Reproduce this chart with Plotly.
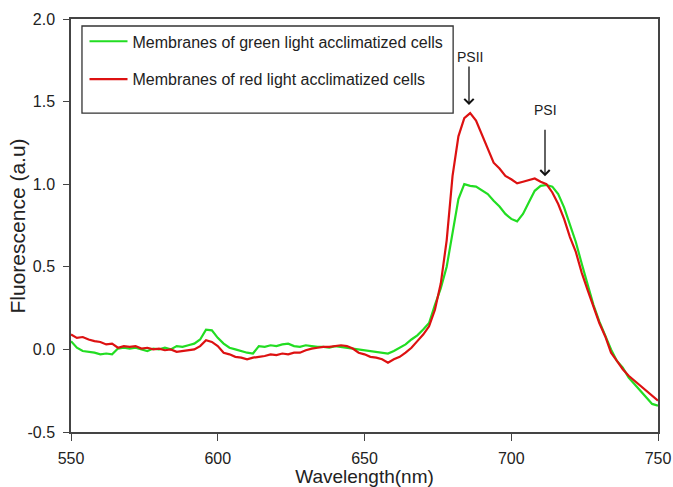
import plotly.graph_objects as go

wavelength = list(range(550, 752, 2))

green_cells = [
    0.05, 0.01, -0.01, -0.015, -0.02, -0.03, -0.025, -0.03, 0.005, 0.01,
    0.005, 0.01, 0.0, -0.01, 0.005, 0.0, 0.01, 0.0, 0.02, 0.015,
    0.025, 0.035, 0.06, 0.12, 0.115, 0.07, 0.035, 0.01, 0.0, -0.01,
    -0.02, -0.025, 0.02, 0.015, 0.025, 0.02, 0.03, 0.035, 0.02, 0.015,
    0.025, 0.02, 0.015, 0.015, 0.01, 0.02, 0.015, 0.01, 0.005, 0.0,
    -0.005, -0.01, -0.015, -0.02, -0.025, -0.01, 0.01, 0.03, 0.06, 0.085,
    0.12, 0.16, 0.27, 0.37, 0.5, 0.7, 0.91, 1.0, 0.99, 0.985,
    0.96, 0.94, 0.9, 0.865, 0.82, 0.79, 0.775, 0.82, 0.89, 0.96,
    0.99, 0.995, 0.985, 0.94, 0.86, 0.76, 0.65, 0.52, 0.39, 0.27,
    0.17, 0.08, 0.0, -0.07, -0.11, -0.17, -0.21, -0.25, -0.29, -0.33,
    -0.34,
]

red_cells = [
    0.09, 0.07, 0.075, 0.06, 0.05, 0.045, 0.03, 0.035, 0.01, 0.02,
    0.015, 0.02, 0.005, 0.01, 0.0, 0.005, -0.005, 0.0, -0.015, -0.01,
    -0.005, 0.0, 0.02, 0.055, 0.045, 0.02, -0.02, -0.03, -0.045, -0.05,
    -0.06, -0.05, -0.045, -0.04, -0.03, -0.035, -0.025, -0.03, -0.02, -0.02,
    -0.005, 0.005, 0.01, 0.015, 0.015, 0.02, 0.025, 0.02, 0.005, -0.02,
    -0.03, -0.045, -0.05, -0.06, -0.08, -0.06, -0.045, -0.02, 0.01, 0.05,
    0.09, 0.14, 0.24, 0.4, 0.66, 1.05, 1.29, 1.4, 1.43, 1.385,
    1.3, 1.21, 1.13, 1.095, 1.05, 1.03, 1.005, 1.015, 1.025, 1.035,
    1.015, 1.0, 0.95, 0.88, 0.79, 0.68, 0.59, 0.465, 0.36, 0.26,
    0.16, 0.08, -0.02, -0.07, -0.12, -0.16, -0.19, -0.22, -0.245, -0.28,
    -0.31,
]

series_names = [
    "Membranes of green light acclimatized cells",
    "Membranes of red light acclimatized cells",
]

x_ticks = [550, 600, 650, 700, 750]
y_ticks = [-0.5, 0.0, 0.5, 1.0, 1.5, 2.0]
y_tick_labels = ["-0.5", "0.0", "0.5", "1.0", "1.5", "2.0"]

peak_labels = ["PSII", "PSI"]
peak_wl = [685.6, 711.5]
peak_tip = [1.479, 1.048]
peak_tail = [1.721, 1.339]
peak_text_y = [1.77, 1.45]

FONT = "Liberation Sans, Arial, sans-serif"
GREEN = "#22dd22"
RED = "#dd1111"

fig = go.Figure()
fig.add_trace(go.Scatter(x=wavelength, y=green_cells, mode="lines",
                         name=series_names[0], legendgroup="g",
                         line=dict(color=GREEN, width=2.2)))
fig.add_trace(go.Scatter(x=wavelength, y=red_cells, mode="lines",
                         name=series_names[1], legendgroup="r",
                         line=dict(color=RED, width=2.2)))

for lab, wx, tip, tail, ty in zip(peak_labels, peak_wl, peak_tip, peak_tail, peak_text_y):
    fig.add_annotation(x=wx, y=tip, ax=wx, ay=tail, axref="x", ayref="y",
                       xref="x", yref="y", text="", showarrow=True,
                       arrowhead=4, arrowsize=1.4, arrowwidth=1.3,
                       arrowcolor="#111111")
    fig.add_annotation(x=wx + 0.3, y=ty, xref="x", yref="y", text=lab,
                       showarrow=False, font=dict(family=FONT, size=14, color="#222222"))

# y-axis title as rotated text
fig.add_annotation(x=-0.0903, y=0.5, xref="paper", yref="paper",
                   text="Fluorescence (a.u)", textangle=-90, showarrow=False,
                   xanchor="center", yanchor="middle",
                   font=dict(family=FONT, size=21, color="#222222"))

fig.update_layout(
    width=673, height=487,
    margin=dict(l=71, r=15, t=19, b=55),
    paper_bgcolor="white", plot_bgcolor="white",
    font=dict(family=FONT, size=16, color="#222222"),
    showlegend=True,
    legend=dict(x=0.023, y=0.987, xanchor="left", yanchor="top",
                bgcolor="rgba(0,0,0,0)", borderwidth=0,
                font=dict(family=FONT, size=16, color="#222222"),
                tracegroupgap=14, itemwidth=38),
    shapes=[dict(type="rect", xref="paper", yref="paper",
                 x0=0.0187, x1=0.651, y0=0.772, y1=0.983,
                 line=dict(color="#333333", width=1.3), fillcolor="rgba(0,0,0,0)")],
)

fig.update_xaxes(
    range=[550, 750], tickvals=x_ticks, ticktext=[str(v) for v in x_ticks],
    showgrid=False, zeroline=False, showline=True, mirror=True, automargin=False,
    linecolor="#444444", linewidth=1.5, ticks="outside", ticklen=7,
    tickwidth=1.3, tickcolor="#444444", ticklabelstandoff=4,
    tickfont=dict(family=FONT, size=16, color="#222222"),
    title=dict(text="Wavelength(nm)", font=dict(family=FONT, size=19, color="#222222"), standoff=2),
)
fig.update_yaxes(
    range=[-0.5, 2.0], tickvals=y_ticks, ticktext=y_tick_labels,
    showgrid=False, zeroline=False, showline=True, mirror=True, automargin=False,
    linecolor="#444444", linewidth=1.5, ticks="outside", ticklen=6,
    tickwidth=1.3, tickcolor="#444444", ticklabelstandoff=5,
    tickfont=dict(family=FONT, size=16, color="#222222"),
)

fig.write_html("out.html")
